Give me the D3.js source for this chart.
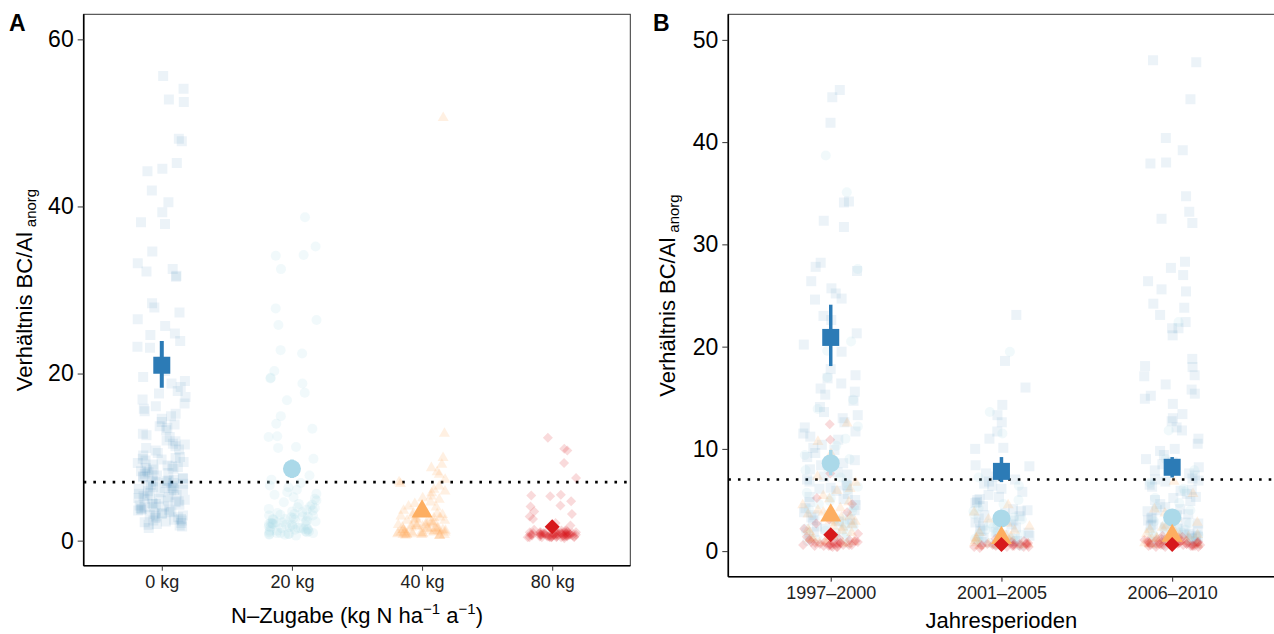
<!DOCTYPE html>
<html><head><meta charset="utf-8">
<script src="https://cdn.jsdelivr.net/npm/d3@7"></script>
<style>
html,body{margin:0;padding:0;background:#fff;}
text{font-family:"Liberation Sans",Arial,Helvetica,sans-serif;}
</style></head>
<body>
<svg id="chart" width="1274" height="634"></svg>
<script>
// ---------------- DATA ----------------
const treatments = ["0 kg", "20 kg", "40 kg", "80 kg"];
const periods = ["1997–2000", "2001–2005", "2006–2010"];
const yTicksA = [0, 20, 40, 60];
const yTicksB = [0, 10, 20, 30, 40, 50];
const threshold = 7;

// Panel A: raw ratios per N treatment
const a0kg = [55.6,3.2,7.8,12.4,5.1,54.1,9.7,2.4,6.3,17.9,4.4,52.8,8.6,3.7,14.9,6.9,52.5,2.9,10.8,5.6,48.1,7.1,4.0,19.6,8.2,47.8,3.1,11.5,6.1,45.2,2.2,15.8,7.5,44.5,4.8,9.1,13.2,44.2,5.9,3.4,41.9,8.9,6.6,18.4,40.5,2.7,10.2,5.3,39.3,7.3,4.2,16.4,38.1,8.0,3.6,37.9,12.0,6.0,34.6,2.0,9.4,4.6,33.2,14.2,7.7,32.5,5.0,11.1,32.2,3.0,6.8,31.7,17.2,8.4,31.6,4.1,10.5,28.4,2.5,5.7,27.9,13.7,7.0,27.3,3.9,9.8,26.5,6.4,19.1,25.7,4.5,8.7,24.8,2.6,15.2,24.6,5.4,11.9,23.9,7.9,3.3,23.2,6.2,12.8,23.1,1.8,9.0,21.4,4.9,16.9,5.5,10.0,3.8,7.4,13.5,6.7,2.3,8.3,18.8,4.3,11.3,5.8,1.5,9.6,14.6,7.2,3.5,6.5,20.3,8.8,2.8,10.9,4.7,15.5,6.1,1.9,12.6,7.6,3.2,5.2,17.6,9.3,2.1,8.5,4.0,6.9,11.6,3.7,7.1,13.9,5.0,2.4,9.9,6.3,16.1,4.4,8.1,1.7];
const a20kg = [38.7,2.1,4.6,1.3,35.2,3.0,0.9,5.8,34.1,1.7,2.6,34.2,6.4,1.1,32.5,3.5,2.0,27.8,0.8,4.1,26.4,1.5,2.9,25.8,5.2,1.0,22.8,3.8,2.3,22.4,0.7,1.9,20.3,4.8,2.5,19.5,1.4,3.2,19.4,6.9,0.9,18.8,2.2,1.6,17.7,3.9,2.7,16.8,1.2,5.5,14.9,2.0,3.3,14.0,0.6,1.8,13.4,4.4,2.4,12.5,1.0,3.6,12.4,7.3,1.5,11.2,2.8,0.8,11.1,4.0,1.3,9.8,2.1,3.1,8.9,1.7,5.0,2.6,0.9,7.8,1.4,3.4,2.2,6.1,1.1,2.9,4.3,1.6,0.7,3.7,2.3,1.9,5.6,1.2,2.5,3.0,0.8,6.6,1.5,2.0];
const a40kg = [50.6,1.2,2.4,0.8,12.8,3.6,1.5,0.6,9.9,2.0,5.1,1.0,8.7,2.8,0.9,1.7,7.9,3.2,0.7,1.3,6.8,2.2,4.4,1.1,8.2,0.8,1.9,3.0,6.1,1.4,0.6,2.6,7.3,1.0,4.9,1.6,0.9,3.8,2.1,5.7,1.2,0.7,2.9,1.5,6.5,0.8,1.8,3.4,1.1,4.1,2.4,0.6,1.3,5.3,2.0,0.9,3.1,1.6,7.0,1.0,2.7,0.7,4.6,1.4,2.2,0.8,3.7,1.2,5.9,1.7,0.9,2.5,1.1,4.0,0.6,1.9,3.3,1.3,2.8,0.7,1.5,9.1,1.0,2.3,0.8,1.8];
const a80kg = [12.3,0.6,0.9,0.4,11.0,0.7,1.1,0.5,10.8,0.8,0.6,9.3,1.0,0.4,0.7,7.5,0.9,0.5,1.2,5.4,0.6,0.8,5.3,0.4,1.0,5.5,0.7,0.5,4.7,0.9,0.6,4.2,1.1,0.4,4.1,0.8,0.7,3.5,0.5,1.0,3.2,0.6,0.9,2.6,0.4,0.7,2.1,1.2,0.5,1.8,0.8,0.6,2.9,1.0,0.4,1.5,0.7,0.9,0.5,0.6,1.1,0.8,0.4,0.7,1.3,0.5,0.9,0.6,1.0,0.8,0.4,0.7,0.5,1.2,0.6,0.9,0.3,0.8,0.7,1.0,0.5,0.6,0.4,0.9,0.8,0.7];
const meanA = [21.0, 8.6, 3.5, 1.65];
const lowA  = [18.3, 7.5, 3.0, 1.35];
const highA = [23.9, 9.7, 4.0, 1.95];

// Panel B: raw ratios per period, per treatment
const b97_0kg = [44.4,6.2,15.3,45.1,3.8,11.7,41.9,8.4,5.1,34.2,13.6,2.9,34.1,9.2,16.4,31.7,4.5,7.3,32.3,12.1,3.1,28.2,10.4,6.8,27.8,14.7,2.4,27.4,8.9,5.6,26.4,11.2,4.0,25.7,7.7,15.9,25.2,3.5,9.6,24.7,6.1,13.0,24.6,2.7,10.9,23.0,5.3,8.0,22.6,12.6,4.2,21.3,7.0,3.3,20.2,9.9,5.9,19.5,14.1,2.2,17.2,6.5,11.5,17.8,4.8,8.6,16.9,3.0,10.1,15.6,5.0,7.5,13.3,1.9,6.4];
const b97_20kg = [38.7,2.4,35.1,4.9,1.3,27.6,3.2,19.6,6.0,1.8,17.0,2.7,13.9,8.1,1.1,12.2,4.3,2.0,11.0,5.7,1.5,10.3,3.6,9.4,2.2,7.2,1.0,6.6,3.9,1.6,5.2,2.9,0.8,4.6,1.9,3.4,7.9,1.2,2.5,6.3,14.8,2.1,9.0,4.1,1.4,20.5,3.0,1.7];
const b97_40kg = [12.5,2.1,4.8,1.2,10.7,3.3,0.8,6.1,2.6,1.5,8.7,4.0,0.9,2.9,5.4,1.8,3.6,0.7,7.3,2.3,1.1,4.5,3.0,1.4,5.9,2.0,0.9,3.8,1.6,6.7,2.4,1.0,4.2,2.8,1.3,9.5,3.4,0.8,1.9,5.1];
const b97_80kg = [12.4,0.6,0.9,10.9,0.5,0.8,7.6,1.1,0.4,5.2,0.7,0.9,4.6,0.6,1.0,3.8,0.5,0.8,3.1,0.7,0.4,2.7,1.2,0.6,2.2,0.9,0.5,1.7,0.8,0.7,1.4,0.6,1.0,0.4,0.9,0.7,0.5,1.1,0.8,0.6];
const b01_0kg = [23.1,3.2,6.4,18.6,1.8,4.7,16.0,7.3,2.5,14.3,5.1,1.2,13.3,3.9,6.8,12.6,2.2,4.4,11.7,5.8,1.5,11.0,3.4,7.6,10.1,2.8,5.5,10.0,1.0,4.1,8.4,6.1,2.0,8.3,3.7,5.0,7.0,1.6,4.8,2.6,6.6,3.0,1.3,5.3,2.3,4.0,7.9,1.9,3.5,0.9];
const b01_20kg = [19.5,13.6,2.1,1.0,4.2,0.7,3.1,1.6,6.4,0.9,2.5,1.3,5.0,0.6,2.0,3.6,1.1,0.8,2.8,1.4,7.2,0.7,1.8,3.3,1.0,2.3,0.5,4.6,1.2,1.5,0.9,2.7,0.6,11.5,1.7,3.9];
const b01_40kg = [3.8,1.2,0.7,2.4,1.0,0.5,1.6,4.5,0.8,1.3,2.0,0.6,0.9,3.1,1.1,0.7,1.8,0.5,2.7,1.4,0.8,1.0,0.6,1.5];
const b01_80kg = [0.6,0.4,0.8,0.5,0.7,0.3,0.9,0.6,0.5,0.4,1.0,0.7,0.6,0.5,0.8,0.4,0.6,0.7,0.5,1.2,0.4,0.6,0.8,0.5,0.7,0.6];
const b06_0kg = [47.8,5.9,1.4,48.0,10.5,3.2,44.2,7.1,1.0,40.4,13.0,4.6,39.2,2.3,8.7,38.0,6.0,1.7,37.9,15.2,3.9,34.7,9.4,0.9,33.2,5.2,12.1,32.5,2.8,7.6,32.1,4.3,11.0,28.3,1.3,6.5,27.7,14.4,3.5,27.0,8.2,2.0,26.4,5.6,15.8,25.6,1.1,10.0,25.4,4.0,7.0,24.2,2.5,13.4,23.8,6.3,1.5,23.1,9.0,3.0,22.4,5.0,11.8,21.8,1.8,7.9,21.8,4.9,2.7,21.1,14.9,6.8,18.8,3.6,1.2,18.1,8.5,5.3,18.0,12.7,2.2,17.2,6.9,4.1,17.1,9.8,1.6,16.3,3.3,15.4,7.4,2.6];
const b06_20kg = [22.4,2.9,1.2,9.0,4.3,0.8,3.1,1.7,6.7,2.2,0.9,5.2,1.4,3.6,0.7,2.5,7.9,1.0,4.0,1.9,0.6,2.7,5.8,1.3,3.4,0.8,2.0,11.8,1.5,4.7,0.9,2.4,1.1,3.0,0.7,6.1,1.6,2.1];
const b06_40kg = [5.6,1.3,0.8,2.5,1.0,4.1,0.6,1.7,3.2,0.9,1.4,2.1,0.7,1.1,6.8,1.9,0.8,2.8,1.2,0.6,1.5,3.7,1.0,0.9,2.3,0.7,1.6,1.2];
const b06_80kg = [0.7,0.5,0.9,0.6,1.1,0.4,0.8,1.3,0.6,0.5,1.0,0.7,0.9,0.4,1.2,0.6,0.8,0.5,1.4,0.7,0.9,0.6,1.0,0.5,0.8,0.4,1.1,0.7,0.6,0.9,1.5,0.5,0.8,0.6,1.0,0.7];
// means per treatment (rows) x period (cols)
const meanB = [[20.9, 7.8, 8.2], [8.6, 3.2, 3.3], [3.5, 1.3, 1.5], [1.6, 0.65, 0.65]];
const lowB  = [[18.1, 6.75, 7.2], [7.4, 2.8, 2.9], [3.1, 1.1, 1.3], [1.4, 0.55, 0.55]];
const highB = [[24.1, 9.2, 9.2], [9.9, 3.7, 3.8], [4.0, 1.6, 1.7], [1.8, 0.75, 0.75]];

// ---------------- STYLE ----------------
const colors = ["#2c7bb6", "#abd9e9", "#fdae61", "#d7191c"];
const bgAlpha = [0.09, 0.17, 0.18, 0.16];
const shapes = ["square", "circle", "triangle", "diamond"];

const svg = d3.select("#chart");

function symbolPath(shape, size) {
  if (shape === "square") return d3.symbol(d3.symbolSquare, size * size)();
  if (shape === "circle") return d3.symbol(d3.symbolCircle, Math.PI * size * size / 4)();
  if (shape === "triangle") return d3.symbol(d3.symbolTriangle, Math.sqrt(3) / 4 * size * size)();
  return d3.symbol(d3.symbolSquare, size * size / 2)(); // diamond, diagonal = size
}
const bgSize = [10, 10, 11, 10];
const meanSize = [17, 18, 21, 15];

// deterministic, index-based jitter (integer hash)
function jitter(i, k) {
  let h = Math.imul(i + 1, 374761393) ^ Math.imul(k + 7, 668265263);
  h = Math.imul(h ^ (h >>> 13), 1274126177);
  h = h ^ (h >>> 16);
  return (h >>> 0) / 4294967296 - 0.5;
}

function drawPanel(opt) {
  const g = svg.append("g");
  const x = d3.scalePoint().domain(opt.cats).range([opt.left, opt.right]).padding(0.6);
  const y = d3.scaleLinear().domain(opt.yDomain).range([opt.bottom, opt.top]);
  const clipId = "clip" + opt.id;
  g.append("clipPath").attr("id", clipId).append("rect")
    .attr("x", opt.left).attr("y", opt.top).attr("width", opt.right - opt.left).attr("height", opt.bottom - opt.top);
  const plot = g.append("g").attr("clip-path", `url(#${clipId})`);

  plot.append("line")
    .attr("x1", opt.left).attr("x2", opt.right)
    .attr("y1", y(threshold)).attr("y2", y(threshold))
    .attr("stroke", "#000").attr("stroke-width", 2.6)
    .attr("stroke-dasharray", "2.6 7.05");

  opt.groups.forEach((grp, gi) => {
    const step = x.step();
    plot.append("g").selectAll("path").data(grp.values).join("path")
      .attr("d", symbolPath(shapes[grp.t], bgSize[grp.t]))
      .attr("transform", (d, i) => {
        const px = x(grp.cat) + jitter(i, gi) * 2 * opt.jw * step;
        return `translate(${px},${y(d)})` + (shapes[grp.t] === "diamond" ? " rotate(45)" : "");
      })
      .attr("fill", colors[grp.t]).attr("fill-opacity", bgAlpha[grp.t]);
  });

  opt.means.forEach(m => {
    plot.append("line")
      .attr("x1", x(m.cat)).attr("x2", x(m.cat))
      .attr("y1", y(m.lo)).attr("y2", y(m.hi))
      .attr("stroke", colors[m.t]).attr("stroke-width", opt.ebw);
    plot.append("path")
      .attr("d", symbolPath(shapes[m.t], meanSize[m.t]))
      .attr("transform", `translate(${x(m.cat)},${y(m.mean)})` + (shapes[m.t] === "diamond" ? " rotate(45)" : ""))
      .attr("fill", colors[m.t]);
  });

  g.append("rect").attr("x", opt.left).attr("y", opt.top)
    .attr("width", opt.right - opt.left).attr("height", opt.bottom - opt.top)
    .attr("fill", "none").attr("stroke", "#333").attr("stroke-width", 1);
  g.append("line").attr("x1", opt.left).attr("x2", opt.left).attr("y1", opt.top).attr("y2", opt.bottom)
    .attr("stroke", "#000").attr("stroke-width", 1.6);
  g.append("line").attr("x1", opt.left).attr("x2", opt.right).attr("y1", opt.bottom).attr("y2", opt.bottom)
    .attr("stroke", "#000").attr("stroke-width", 1.6);

  const ya = g.append("g").attr("transform", `translate(${opt.left},0)`)
    .call(d3.axisLeft(y).tickValues(opt.yTicks).tickSize(6).tickPadding(4).tickFormat(d3.format("d")));
  ya.select(".domain").remove();
  ya.selectAll(".tick line").attr("stroke", "#333");
  ya.selectAll(".tick text").attr("font-size", 23).attr("fill", "#000")
    .attr("font-family", "'Liberation Sans',Arial,sans-serif");

  const xa = g.append("g").attr("transform", `translate(0,${opt.bottom})`)
    .call(d3.axisBottom(x).tickSize(5).tickPadding(5));
  xa.select(".domain").remove();
  xa.selectAll(".tick line").attr("stroke", "#333");
  xa.selectAll(".tick text").attr("font-size", 18).attr("fill", "#222")
    .attr("font-family", "'Liberation Sans',Arial,sans-serif");

  const yt = g.append("text")
    .attr("transform", `translate(${opt.yTitleX},${(opt.top + opt.bottom) / 2}) rotate(-90)`)
    .attr("text-anchor", "middle").attr("font-size", 22).attr("fill", "#000");
  yt.append("tspan").text("Verhältnis BC/Al");
  yt.append("tspan").attr("font-size", 15).attr("dx", 5).attr("dy", 4).text("anorg");

  g.append("text").attr("x", opt.tagX).attr("y", 31).attr("font-size", 23)
    .attr("font-weight", "bold").attr("fill", "#000").text(opt.tag);
  return {x, y, g};
}

// Panel A
const groupsA = [a0kg, a20kg, a40kg, a80kg].map((v, i) => ({cat: treatments[i], t: i, values: v}));
const meansA = treatments.map((c, i) => ({cat: c, t: i, mean: meanA[i], lo: lowA[i], hi: highA[i]}));
const pA = drawPanel({
  id: "A", tag: "A", tagX: 9, cats: treatments, left: 83.7, right: 630.3, top: 14.3, bottom: 565.7,
  yDomain: [-3, 63], yTicks: yTicksA, jw: 0.19, ebw: 4, yTitleX: 32,
  groups: groupsA, means: meansA
});
const xtA = pA.g.append("text").attr("x", (83.7 + 630.3) / 2).attr("y", 623)
  .attr("text-anchor", "middle").attr("font-size", 22).attr("fill", "#000");
xtA.append("tspan").text("N–Zugabe (kg N ha");
xtA.append("tspan").attr("font-size", 15).attr("dy", -9).text("−1");
xtA.append("tspan").attr("dy", 9).text(" a");
xtA.append("tspan").attr("font-size", 15).attr("dy", -9).text("−1");
xtA.append("tspan").attr("dy", 9).text(")");

// Panel B
const rawB = [[b97_0kg, b97_20kg, b97_40kg, b97_80kg], [b01_0kg, b01_20kg, b01_40kg, b01_80kg], [b06_0kg, b06_20kg, b06_40kg, b06_80kg]];
const groupsB = [];
for (let t = 0; t < 4; t++) for (let p = 0; p < 3; p++) groupsB.push({cat: periods[p], t: t, values: rawB[p][t]});
const meansB = [];
for (let t = 0; t < 4; t++) for (let p = 0; p < 3; p++)
  meansB.push({cat: periods[p], t: t, mean: meanB[t][p], lo: lowB[t][p], hi: highB[t][p]});
const pB = drawPanel({
  id: "B", tag: "B", tagX: 653, cats: periods, left: 728.3, right: 1274.6, top: 14.3, bottom: 576.7,
  yDomain: [-2.5, 52.5], yTicks: yTicksB, jw: 0.165, ebw: 3.5, yTitleX: 675,
  groups: groupsB, means: meansB
});
pB.g.append("text").attr("x", (728.3 + 1274.6) / 2).attr("y", 628)
  .attr("text-anchor", "middle").attr("font-size", 22).attr("fill", "#000").text("Jahresperioden");
</script>
</body></html>
